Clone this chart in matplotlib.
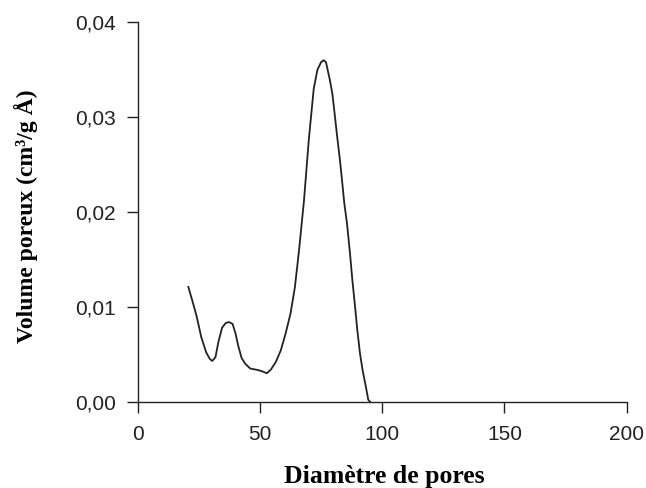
import matplotlib
matplotlib.use("Agg")
import matplotlib.pyplot as plt
from matplotlib.ticker import FuncFormatter

diam = [20.7, 22.5, 24.1, 26.0, 28.0, 29.5, 30.5, 31.8, 33.0, 34.5, 36.0, 37.3,
        38.8, 40.0, 41.2, 42.5, 44.0, 46.0, 49.0, 51.0, 52.8, 54.5, 56.5, 58.5,
        60.5, 62.5, 64.3, 66.0, 68.0, 70.0, 72.0, 73.5, 75.0, 76.0, 77.0, 78.6,
        79.6, 80.7, 81.6, 82.7, 83.7, 84.5, 85.6, 86.8, 87.8, 88.9, 89.8, 90.9,
        92.0, 93.3, 94.3, 95.0]
volume = [0.0121, 0.0105, 0.0090, 0.0068, 0.0052, 0.0045, 0.0043, 0.0047, 0.0063,
          0.0078, 0.0083, 0.0084, 0.0082, 0.0072, 0.0058, 0.0046, 0.0040, 0.0035,
          0.00335, 0.0032, 0.0030, 0.0034, 0.0042, 0.0054, 0.0072, 0.0093, 0.0121,
          0.0160, 0.0212, 0.0277, 0.0330, 0.0350, 0.0358, 0.0360, 0.0358, 0.0339,
          0.0325, 0.0300, 0.0279, 0.0255, 0.0230, 0.0209, 0.0188, 0.0157, 0.0128,
          0.0100, 0.0076, 0.0051, 0.0033, 0.0016, 0.0002, 0.0000]
xticks = [0, 50, 100, 150, 200]
yticks = [0.00, 0.01, 0.02, 0.03, 0.04]

fig = plt.figure(figsize=(6.46, 4.88), dpi=100)
ax = fig.add_axes([0.2132, 0.1768, 0.9701 - 0.2132, 0.9543 - 0.1768])
ax.plot(diam, volume, color="#222222", lw=1.3)
ax.set_xlim(0, 200)
ax.set_ylim(0, 0.04)
ax.set_xticks(xticks)
ax.set_yticks(yticks)
ax.yaxis.set_major_formatter(FuncFormatter(lambda v, p: f"{v:.2f}".replace(".", ",")))
ax.xaxis.set_major_formatter(FuncFormatter(lambda v, p: f"{int(v)}"))
for s in ["top", "right"]:
    ax.spines[s].set_visible(False)
for s in ["left", "bottom"]:
    ax.spines[s].set_color("#222222")
    ax.spines[s].set_linewidth(1.0)
ax.tick_params(direction="out", length=8, width=1.0, color="#222222",
               labelsize=15, labelcolor="#222222")
ax.tick_params(axis="x", pad=9)
ax.tick_params(axis="y", pad=8)
for lab in ax.get_xticklabels() + ax.get_yticklabels():
    lab.set_family("Liberation Sans")
ax.set_xlabel("Diamètre de pores", family="Liberation Serif", fontweight="bold",
              fontsize=18.5)
ax.set_ylabel("Volume poreux (cm³/g Å)", family="Liberation Serif", fontweight="bold",
              fontsize=17)
ax.xaxis.set_label_coords(0.505, -0.2143)
ax.xaxis.label.set_va("baseline")
ax.yaxis.set_label_coords(-0.214, 0.49)
ax.yaxis.label.set_va("baseline")
fig.savefig("out.png", dpi=100)
